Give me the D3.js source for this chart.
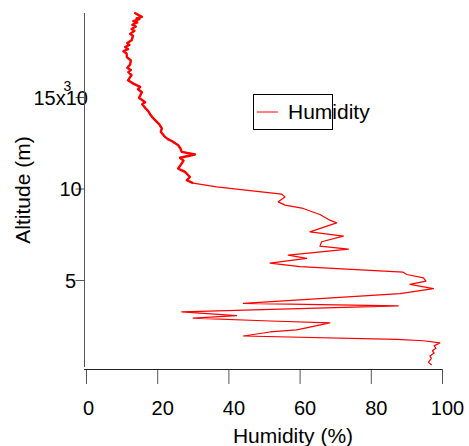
<!DOCTYPE html>
<html>
<head>
<meta charset="utf-8">
<script src="https://cdn.jsdelivr.net/npm/d3@7"></script>
<style>
  body { margin: 0; background: #fff; }
  svg { display: block; font-family: "Liberation Sans", Arial, sans-serif; }
</style>
</head>
<body>
<svg id="chart" width="469" height="446"></svg>
<script>
// humidity profile (top of flight first)
const humidityPct = [
  13.6, 15.7, 14.2, 15.0, 13.3, 14.4, 13.0, 14.0, 12.8, 13.6, 12.4, 13.2, 12.8, 11.6, 12.2, 11.0,
  11.8, 10.5, 11.4, 11.5, 12.6, 12.4, 11.6, 12.6, 11.9, 12.8, 12.4, 11.8, 13.3, 15.2, 14.6, 15.7,
  14.9, 16.6, 15.8, 16.6, 17.4, 18.0, 18.6, 19.9, 20.6, 21.3, 21.0, 22.2, 23.0, 24.2, 25.0, 25.9,
  26.5, 26.9, 30.6, 26.4, 27.4, 26.9, 25.9, 27.8, 29.2, 28.3, 30.1, 36.7, 46.1,
  55.0, 55.9, 54.0, 55.9, 61.0, 65.7, 68.5, 70.4, 62.9, 72.3, 66.2, 65.7, 73.7, 56.8, 62.0, 51.7,
  60.1, 89.1, 90.1, 94.8, 95.5, 91.0, 97.6, 88.2, 44.2, 87.7, 26.9, 42.3, 30.1, 51.7, 68.5, 59.2,
  51.7, 44.2, 87.3, 94.8, 99.4, 97.8, 98.3, 97.3, 97.8, 96.6, 97.0, 96.2, 97.1
]
const altitudeM = [
  19607, 19380, 19300, 19250, 19150, 19080, 18950, 18850, 18720, 18620, 18450, 18330, 18100, 17950, 17850, 17730,
  17620, 17500, 17380, 17170, 17000, 16780, 16600, 16480, 16360, 16200, 16090, 15910, 15730, 15550, 15420, 15260,
  14960, 14710, 14600, 14410, 14250, 14060, 13900, 13640, 13500, 13280, 13100, 12820, 12700, 12580, 12480, 12360,
  12200, 12000, 11860, 11680, 11520, 11370, 11090, 10910, 10630, 10450, 10290, 10090, 9880,
  9690, 9540, 9270, 9090, 8910, 8580, 8270, 8120, 7630, 7400, 7090, 6850, 6690, 6360, 6180, 5920,
  5730, 5430, 5300, 5120, 4940, 4760, 4530, 4260, 3720, 3590, 3260, 3050, 2920, 2760, 2660, 2270,
  2160, 1940, 1760, 1680, 1560, 1400, 1270, 1130, 1010, 850, 720, 500, 355
]

const xTicks = [0, 20, 40, 60, 80, 100]
const yTicks = [5000, 10000, 15000]
const yTickLabels = ['5', '10', '15x10']
const yExponent = '3'
const seriesName = 'Humidity'
const xTitle = 'Humidity (%)'
const yTitle = 'Altitude (m)'

function drawChart() {
  const svg = d3.select('#chart')
  const lineColor = '#ff0000'

  const xScale = d3.scaleLinear().domain([0, 100]).range([86, 442])
  const yScale = d3.scaleLinear().domain([0, 15000]).range([371.5, 97])

  const points = humidityPct.map((h, i) => ({ h, alt: altitudeM[i] }))

  // profile trace
  const line = d3.line()
    .x((d) => xScale(d.h))
    .y((d) => yScale(d.alt))

  svg.append('path')
    .datum(points)
    .attr('d', line)
    .attr('fill', 'none')
    .attr('stroke', lineColor)
    .attr('stroke-width', 1.2)
    .attr('stroke-linejoin', 'round')

  // the dry upper part is dense and noisy, so it reads as a heavier trace
  svg.append('path')
    .datum(points.filter((d) => d.alt >= 10200))
    .attr('d', line)
    .attr('fill', 'none')
    .attr('stroke', lineColor)
    .attr('stroke-width', 2.4)
    .attr('stroke-linejoin', 'round')

  // bottom axis
  const xAxis = d3.axisBottom(xScale)
    .tickValues(xTicks)
    .tickSize(15)
    .tickPadding(17)
    .tickFormat(d3.format('d'))

  const gx = svg.append('g')
    .attr('transform', 'translate(0,369)')
    .call(xAxis)
  gx.select('.domain').remove()
  gx.selectAll('line').attr('stroke', '#555')
  gx.selectAll('text')
    .attr('dx', (d) => (d === 0 ? 2 : 5))
    .attr('fill', '#000')
    .style('font-size', '20px')
    .style('font-family', '"Liberation Sans", Arial, sans-serif')

  svg.append('line')
    .attr('x1', 84).attr('x2', 442)
    .attr('y1', 369.5).attr('y2', 369.5)
    .attr('stroke', '#222')

  // left axis
  const yAxis = d3.axisLeft(yScale)
    .tickValues(yTicks)
    .tickSize(9)
    .tickPadding(0)
    .tickFormat((d, i) => yTickLabels[i])

  const gy = svg.append('g')
    .attr('transform', 'translate(84.5,0)')
    .call(yAxis)
  gy.select('.domain').remove()
  gy.selectAll('line').attr('stroke', '#555')
  gy.selectAll('text')
    .attr('fill', '#000')
    .attr('text-anchor', (d) => (d === 15000 ? 'start' : 'middle'))
    .attr('x', (d) => (d === 15000 ? -51 : -14))
    .attr('dy', '0.36em')
    .style('font-size', '20px')
    .style('font-family', '"Liberation Sans", Arial, sans-serif')

  gy.selectAll('.tick')
    .filter((d) => d === 15000)
    .append('text')
    .text(yExponent)
    .attr('x', -17)
    .attr('y', -7)
    .attr('text-anchor', 'middle')
    .attr('fill', '#000')
    .style('font-size', '14px')
    .style('font-family', '"Liberation Sans", Arial, sans-serif')

  svg.append('line')
    .attr('x1', 84.5).attr('x2', 84.5)
    .attr('y1', 13).attr('y2', 367)
    .attr('stroke', '#555')

  // axis titles
  svg.append('text')
    .attr('x', 293)
    .attr('y', 443)
    .attr('text-anchor', 'middle')
    .style('font-size', '21px')
    .text(xTitle)

  svg.append('text')
    .attr('transform', 'translate(30,190) rotate(-90)')
    .attr('text-anchor', 'middle')
    .style('font-size', '21px')
    .text(yTitle)

  // legend
  const legend = svg.append('g')
  legend.append('rect')
    .attr('x', 253.5).attr('y', 94.5)
    .attr('width', 79).attr('height', 35)
    .attr('fill', 'none')
    .attr('stroke', '#000')
  legend.append('line')
    .attr('x1', 257).attr('x2', 278)
    .attr('y1', 112).attr('y2', 112)
    .attr('stroke', lineColor)
  legend.append('text')
    .attr('x', 288)
    .attr('y', 119)
    .style('font-size', '21px')
    .text(seriesName)
}

drawChart()
</script>
</body>
</html>
